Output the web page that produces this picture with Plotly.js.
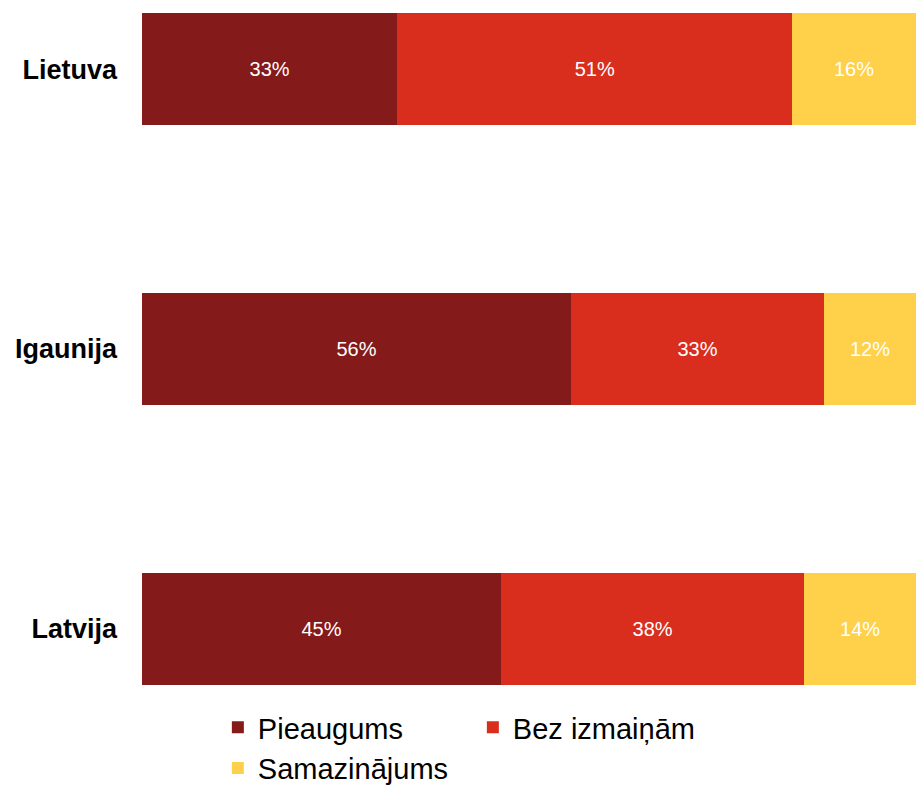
<!DOCTYPE html>
<html>
<head>
<meta charset="utf-8">
<script src="https://cdn.plot.ly/plotly-3.0.1.min.js"></script>
<style>
  body { margin: 0; background: #fff; }
  #myPlot { width: 916px; height: 791px; }
</style>
</head>
<body>
<div id="myPlot"></div>
<script>
// countries, bottom to top
var countries = ["Latvija", "Igaunija", "Lietuva"];

var seriesNames = ["Pieaugums", "Bez izmaiņām", "Samazinājums"];
var pieaugums = [45, 56, 33];
var bezIzmainam = [38, 33, 51];
var samazinajums = [14, 12, 16];
var colors = ["#841a1a", "#d92e1d", "#ffd04a"];
// legend columns: 1st and 3rd series share the left column
var legendCols = ["a", "b", "a"];

var values = [pieaugums, bezIzmainam, samazinajums];

var data = values.map(function (vals, i) {
    return {
        type: "bar",
        orientation: "h",
        name: seriesNames[i],
        legendgroup: legendCols[i],
        y: countries,
        x: vals,
        text: vals.map(function (v) { return v + "%"; }),
        texttemplate: "%{text}",
        textposition: "inside",
        insidetextanchor: "middle",
        textangle: 0,
        constraintext: "none",
        textfont: { family: "Liberation Sans, Arial, sans-serif", size: 20, color: "#ffffff" },
        marker: { color: colors[i], line: { width: 0 } },
        width: 0.4,
        hoverinfo: "skip"
    };
});

var layout = {
    width: 916,
    height: 791,
    margin: { l: 142, r: 0, t: 10, b: 101 },
    barmode: "stack",
    barnorm: "percent",
    paper_bgcolor: "#ffffff",
    plot_bgcolor: "#ffffff",
    font: { family: "Liberation Sans, Arial, sans-serif", color: "#000000" },
    xaxis: {
        range: [0, 100],
        visible: false,
        fixedrange: true
    },
    yaxis: {
        type: "category",
        categoryorder: "array",
        categoryarray: countries,
        range: [-0.218, 2.211],
        showgrid: false,
        zeroline: false,
        showline: false,
        ticks: "",
        ticklabelstandoff: 24,
        tickfont: { family: "Liberation Sans, Arial, sans-serif", size: 27, color: "#000000", weight: "bold" },
        fixedrange: true
    },
    showlegend: true,
    legend: {
        orientation: "h",
        x: 0.098,
        xanchor: "left",
        yref: "container",
        y: 1 - 702 / 791,
        yanchor: "top",
        traceorder: "grouped",
        entrywidth: 210,
        entrywidthmode: "pixels",
        font: { family: "Liberation Sans, Arial, sans-serif", size: 29, color: "#000000" },
        bgcolor: "rgba(0,0,0,0)"
    }
};

Plotly.newPlot("myPlot", data, layout, { displayModeBar: false, staticPlot: true });
</script>
</body>
</html>
